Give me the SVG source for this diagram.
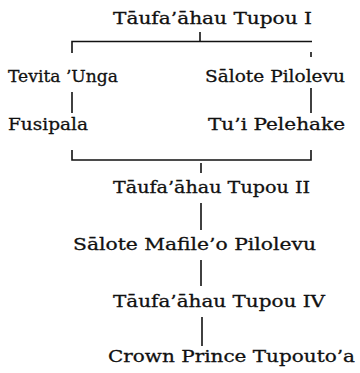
<svg xmlns="http://www.w3.org/2000/svg" width="360" height="373" viewBox="0 0 360 373">
<style>
text{font-family:"DejaVu Serif","Liberation Serif",serif;font-size:17px;fill:#111;stroke:#111;stroke-width:0.3;}
.ln{stroke:#111;stroke-width:1.6;fill:none;stroke-linecap:butt;}
</style>
<rect width="360" height="373" fill="#fff"/>
<g id="connectors">
<path class="ln" d="M72 53 V41.5 H312"/>
<path class="ln" d="M200 32 V41.5"/>
<path class="ln" d="M311 52 V57"/>
<path class="ln" d="M72 92 V113"/>
<path class="ln" d="M311 88 V113"/>
<path class="ln" d="M72 150 V160 H311 V150"/>
<path class="ln" d="M201 163 V173"/>
<path class="ln" d="M201 203 V230"/>
<path class="ln" d="M201 260 V286"/>
<path class="ln" d="M202 317 V346"/>
</g>
<g id="n1"><text x="113" y="24" textLength="199" lengthAdjust="spacingAndGlyphs">Tāufa’āhau Tupou I</text></g>
<g id="n2"><text x="8" y="82" textLength="110" lengthAdjust="spacingAndGlyphs">Tevita ’Unga</text></g>
<g id="n3"><text x="205" y="82" textLength="140" lengthAdjust="spacingAndGlyphs">Sālote Pilolevu</text></g>
<g id="n4"><text x="8" y="130" textLength="80" lengthAdjust="spacingAndGlyphs">Fusipala</text></g>
<g id="n5"><text x="208" y="130" textLength="137" lengthAdjust="spacingAndGlyphs">Tu’i Pelehake</text></g>
<g id="n6"><text x="113" y="193" textLength="197" lengthAdjust="spacingAndGlyphs">Tāufa’āhau Tupou II</text></g>
<g id="n7"><text x="73" y="250" textLength="243" lengthAdjust="spacingAndGlyphs">Sālote Mafile’o Pilolevu</text></g>
<g id="n8"><text x="113" y="307" textLength="212" lengthAdjust="spacingAndGlyphs">Tāufa’āhau Tupou IV</text></g>
<g id="n9"><text x="108" y="362" textLength="247" lengthAdjust="spacingAndGlyphs">Crown Prince Tupouto’a</text></g>
</svg>
